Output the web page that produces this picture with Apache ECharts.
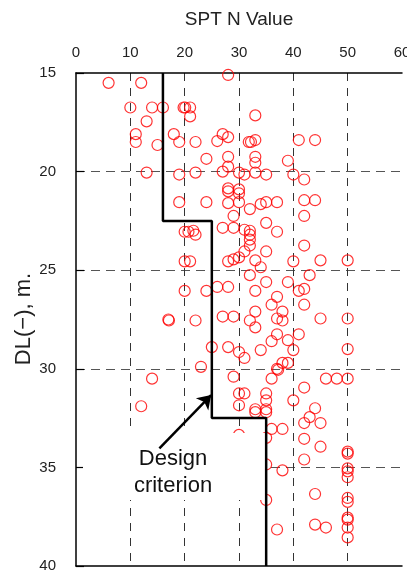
<!DOCTYPE html>
<html>
<head>
<meta charset="utf-8">
<script src="https://cdn.jsdelivr.net/npm/echarts@6/dist/echarts.min.js"></script>
<style>
html,body{margin:0;padding:0;background:#fff;}
#chart{width:407px;height:576px;}
</style>
</head>
<body>
<div id="chart"></div>
<script>
// SPT N values (x) and depth DL(-) in m (y)
var sptPoints = [
  [6,15.5],[12,15.5],[28,15.1],[10,16.75],[14,16.75],[16,16.75],[19.8,16.75],[20.1,16.75],[21,16.75],
  [21,17.2],[13,17.45],[11,18.1],[11,18.5],[15,18.65],[18,18.1],[19,18.5],[22,18.5],[26,18.45],
  [27,18.1],[28,18.25],[24,19.35],[28,19.25],[28,19.75],[13,20.05],[19,20.15],[22,20.05],[27,20.0],
  [30,20.05],[28,20.85],
  [33,17.15],[31.8,18.5],[32.2,18.5],[33,18.4],[41,18.4],[44,18.4],[33,19.25],[33,19.55],[39,19.45],
  [31,20.15],[33,20.05],[35,20.15],[40,20.15],[42,20.4],[30,20.9],
  [19,21.55],[24,21.55],[28,21.0],[28,21.6],[30,21.1],[30,21.55],[29,22.25],[20,23.05],[20.7,23.05],
  [21.6,23.0],[22,23.2],[27,22.85],[29,22.85],[20,24.55],[21,24.55],[28,24.55],[29,24.45],[30,24.35],
  [20,26.05],[24,26.05],[26,25.85],[28,25.85],
  [32,21.9],[34,21.65],[35,21.55],[37,21.55],[42,21.45],[44,21.45],[42,22.25],[35,22.6],[37,23.05],
  [31,22.95],[32,23.0],[32,23.2],[32,23.45],[32,23.75],[31,24.05],[35,24.05],[42,23.75],[33,24.5],
  [34,24.85],[40,24.55],[45,24.5],[50,24.5],[32,25.25],[35,25.6],[39,25.6],[43,25.25],[33,26.05],
  [37,26.35],[41,26.05],[42,25.95],
  [17,27.5],[17.1,27.55],[22,27.55],[27,27.35],[29,27.35],[25,28.9],[28,28.9],[30,29.15],[23,29.9],
  [29,30.4],[14,30.5],[12,31.9],[30,31.25],
  [36,26.75],[42,26.75],[33,27.1],[38,27.1],[32,27.55],[33,27.9],[37,27.45],[38,27.55],[45,27.45],
  [50,27.45],[37,28.25],[36,28.6],[39,28.55],[41,28.25],[31,29.45],[34,29.05],[40,29.05],[50,29.0],
  [38,29.7],[39,29.7],[37,30.0],[37.2,30.05],[36,30.5],[46,30.5],[48,30.5],[50,30.5],[42,30.95],
  [31,31.25],[35,31.25],[35,31.6],[30,31.85],[33,32.05],[35,32.05],[40,31.6],[44,32.0],
  [33,32.2],[35,32.2],[43,32.45],[42,32.75],[45,32.75],[36,33.05],[38,33.05],[35,33.5],[30,33.35],
  [42,33.55],[45,33.95],[42,34.6],[50,34.2],[50,34.3],[35,34.85],[38,35.15],[50,35.05],[50,35.2],
  [50,35.5],[35,36.65],[44,36.35],[50,36.55],[50,36.75],[50,37.55],[50,37.65],[50,38.05],[44,37.9],
  [46,38.05],[37,38.15],[50,38.55]
];
// design criterion step line
var designCriterion = [[16,15],[16,22.5],[25,22.5],[25,32.5],[35,32.5],[35,40]];
// annotation arrow (from text to line)
var arrowFrom = [15.35,34.03];
var arrowTo = [24.87,31.33];
var xTicks = {min:0, max:60, interval:10};
var yTicks = {min:15, max:40, interval:5};
var yAxisName = 'DL(−), m.';

var chart = echarts.init(document.getElementById('chart'));
var font = 'Liberation Sans, Arial, sans-serif';
chart.setOption({
  animation:false,
  grid:{left:76, top:73, right:5, bottom:10, show:false, containLabel:false, outerBoundsMode:'none'},
  xAxis:[{
    type:'value', position:'top', min:xTicks.min, max:xTicks.max, interval:xTicks.interval,
    name:'SPT N Value', nameLocation:'middle', nameGap:44,
    nameTextStyle:{fontSize:19, color:'#222', fontFamily:font},
    axisLine:{show:true, lineStyle:{color:'#000', width:1.5}},
    axisTick:{show:false},
    axisLabel:{fontSize:15, color:'#222', margin:13, fontFamily:font, hideOverlap:false},
    splitLine:{show:true, showMinLine:false, showMaxLine:false, lineStyle:{color:'#333', width:1, type:[8,7]}}
  },{
    type:'value', position:'bottom', min:xTicks.min, max:xTicks.max, interval:xTicks.interval,
    axisLine:{show:true, lineStyle:{color:'#000', width:1.5}},
    axisTick:{show:false}, axisLabel:{show:false}, splitLine:{show:false}
  }],
  yAxis:{
    type:'value', inverse:true, min:yTicks.min, max:yTicks.max, interval:yTicks.interval,
    axisLine:{show:true, lineStyle:{color:'#000', width:1.5}},
    axisTick:{show:true, inside:true, length:8, lineStyle:{color:'#000', width:1.2}},
    axisLabel:{fontSize:15, color:'#222', margin:20, fontFamily:font},
    splitLine:{show:true, showMinLine:false, showMaxLine:false, lineStyle:{color:'#555', width:1, type:[9,6]}}
  },
  graphic:[
    {type:'text', x:24, y:319, rotation:Math.PI/2, z:10, style:{text:yAxisName, font:'22px '+font, fill:'#222', align:'center', verticalAlign:'middle'}},
    {type:'rect', shape:{x:83, y:433, width:182, height:67}, style:{fill:'#fff'}, z:3},
    {type:'text', x:173, y:459, z:10, style:{text:'Design', font:'22px '+font, fill:'#111', align:'center', verticalAlign:'middle'}},
    {type:'text', x:173, y:486, z:10, style:{text:'criterion', font:'22px '+font, fill:'#111', align:'center', verticalAlign:'middle'}}
  ],
  series:[{
    type:'scatter', xAxisIndex:0, data:sptPoints, symbol:'circle', symbolSize:11, z:2,
    itemStyle:{color:'rgba(0,0,0,0)', borderColor:'#ff0000', borderWidth:1.2}
  },{
    type:'line', xAxisIndex:0, data:designCriterion, symbol:'none', z:5, clip:false,
    lineStyle:{color:'#000', width:2.5},
    markLine:{
      silent:true, symbol:['none','arrow'], symbolSize:13, animation:false, z:6,
      label:{show:false},
      lineStyle:{color:'#000', width:2.5, type:'solid'},
      data:[[{coord:arrowFrom},{coord:arrowTo}]]
    }
  }]
});
</script>
</body>
</html>
